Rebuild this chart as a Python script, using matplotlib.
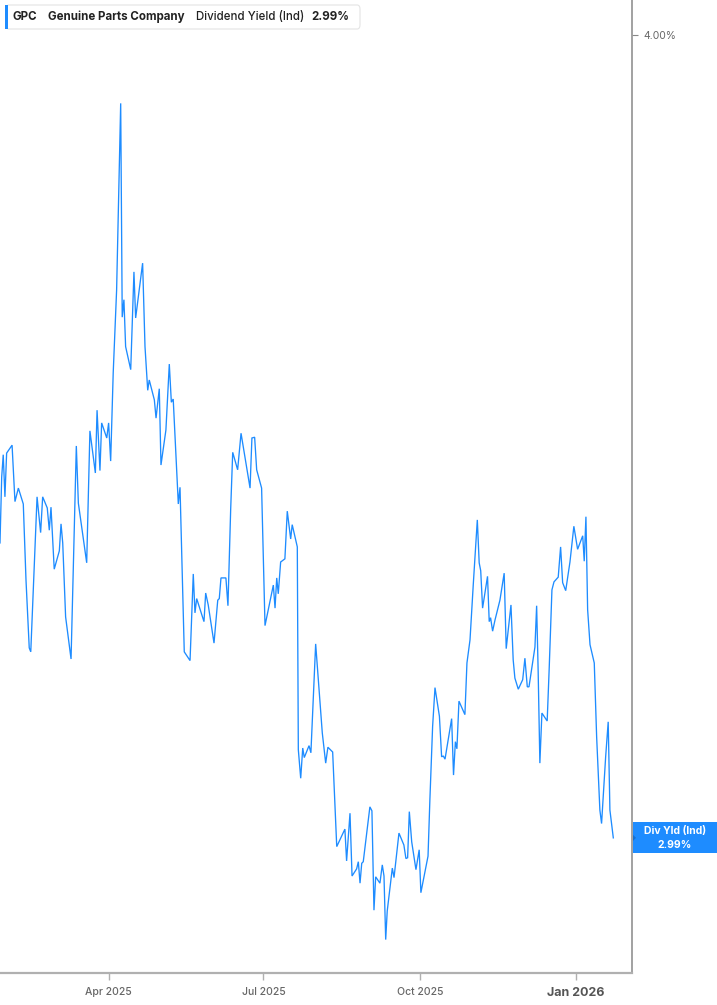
import datetime as dt
import numpy as np
import matplotlib
matplotlib.use("Agg")
import matplotlib.pyplot as plt
import matplotlib.dates as mdates
from matplotlib.patches import FancyBboxPatch, Rectangle, Polygon

# ---------------- data ----------------
start_date = dt.datetime(2025, 1, 27)
# days since start_date
day_offset = [
    0.0, 1.0, 1.9, 2.9, 3.9, 7.1, 8.8, 10.8, 13.7, 15.3, 17.2, 18.1, 21.8, 23.9, 25.1,
    27.8, 29.0, 30.0, 31.9, 34.9, 35.9, 36.9, 38.6, 41.8, 44.9, 46.1, 51.0, 52.9, 56.1,
    57.1, 58.8, 59.8, 62.8, 63.9, 65.1, 66.6, 68.6, 71.0, 71.9, 72.9, 73.9, 76.9, 78.8,
    79.8, 83.9, 85.3, 86.9, 87.8, 90.8, 91.8, 93.7, 94.7, 97.6, 99.6, 100.8, 101.9,
    104.9, 105.9, 108.4, 111.8, 113.7, 114.7, 115.7, 120.0, 121.0, 122.5, 125.9, 128.1,
    129.0, 130.0, 132.9, 134.1, 135.7, 136.9, 139.8, 141.8, 143.1, 147.1, 148.2, 149.8,
    151.0, 153.9, 155.9, 160.8, 161.8, 162.8, 163.7, 165.1, 167.6, 169.0, 171.0, 171.9,
    174.9, 175.5, 176.9, 178.1, 179.0, 181.8, 182.9, 185.7, 189.6, 191.6, 192.9, 195.7,
    198.1, 199.4, 202.9, 203.9, 205.9, 207.1, 209.8, 210.8, 211.8, 212.8, 213.7, 217.6,
    218.8, 220.0, 221.0, 223.5, 224.9, 225.9, 226.9, 227.8, 230.8, 231.8, 234.7, 237.6,
    238.8, 239.8, 240.8, 242.2, 244.7, 246.6, 247.6, 251.8, 252.9, 254.5, 255.9, 258.5,
    259.8, 260.8, 261.8, 265.7, 266.8, 267.9, 268.8, 270.0, 273.5, 274.7, 276.5, 278.4,
    280.8, 281.9, 282.8, 283.9, 286.8, 287.8, 288.6, 289.8, 291.2, 294.1, 296.6, 297.8,
    300.6, 301.9, 302.9, 304.9, 307.5, 308.8, 310.2, 311.2, 314.7, 315.7, 316.6, 317.6,
    318.8, 321.9, 323.1, 324.7, 325.9, 328.4, 329.8, 331.0, 332.8, 335.3, 337.6, 339.8,
    342.8, 343.7, 344.7, 345.7, 347.1, 349.6, 351.0, 352.9, 353.9, 356.3, 357.8, 358.8,
    360.8,
]
div_yield = [
    3.361, 3.444, 3.472, 3.419, 3.474, 3.484, 3.413, 3.430, 3.410, 3.314, 3.229, 3.224,
    3.419, 3.374, 3.419, 3.405, 3.377, 3.406, 3.328, 3.351, 3.385, 3.361, 3.268, 3.215,
    3.483, 3.411, 3.336, 3.502, 3.449, 3.528, 3.452, 3.512, 3.493, 3.512, 3.464, 3.575,
    3.679, 3.914, 3.645, 3.667, 3.608, 3.579, 3.702, 3.644, 3.713, 3.608, 3.553, 3.566,
    3.541, 3.518, 3.555, 3.459, 3.503, 3.586, 3.538, 3.542, 3.410, 3.431, 3.224, 3.213,
    3.322, 3.273, 3.291, 3.262, 3.298, 3.283, 3.235, 3.289, 3.291, 3.317, 3.317, 3.282,
    3.403, 3.475, 3.453, 3.499, 3.482, 3.430, 3.493, 3.494, 3.453, 3.430, 3.257, 3.308,
    3.279, 3.317, 3.297, 3.337, 3.341, 3.401, 3.366, 3.384, 3.356, 3.101, 3.065, 3.103,
    3.091, 3.106, 3.097, 3.234, 3.122, 3.084, 3.104, 3.098, 2.979, 2.985, 3.001, 2.961,
    3.021, 2.942, 2.951, 2.960, 2.933, 2.958, 2.960, 3.029, 3.024, 2.899, 2.941, 2.933,
    2.956, 2.942, 2.862, 2.898, 2.952, 2.940, 2.996, 2.981, 2.964, 2.965, 3.023, 2.985,
    2.950, 2.975, 2.921, 2.967, 3.038, 3.130, 3.179, 3.143, 3.092, 3.093, 3.089, 3.140,
    3.069, 3.111, 3.102, 3.162, 3.145, 3.210, 3.239, 3.308, 3.390, 3.336, 3.326, 3.279,
    3.319, 3.262, 3.267, 3.250, 3.264, 3.289, 3.323, 3.228, 3.283, 3.214, 3.191, 3.177,
    3.189, 3.216, 3.180, 3.180, 3.230, 3.282, 3.199, 3.084, 3.147, 3.137, 3.204, 3.302,
    3.312, 3.318, 3.356, 3.311, 3.301, 3.337, 3.382, 3.353, 3.370, 3.338, 3.394, 3.277,
    3.233, 3.210, 3.117, 3.025, 3.008, 3.092, 3.136, 3.025, 2.990,
]
tick_dates = [dt.datetime(2025, 4, 1), dt.datetime(2025, 7, 1),
              dt.datetime(2025, 10, 1), dt.datetime(2026, 1, 1)]
tick_labels = ["Apr 2025", "Jul 2025", "Oct 2025", "Jan 2026"]
y_ticks = [4.00]
y_tick_labels = ["4.00%"]
ticker = "GPC"
company = "Genuine Parts Company"
metric = "Dividend Yield (Ind)"
last_label = "2.99%"
last_value = div_yield[-1]

# ---------------- figure ----------------
W, H = 717, 1005
fig = plt.figure(figsize=(W / 100, H / 100), dpi=100)
fig.patch.set_facecolor("white")
plt.rcParams["font.family"] = ["Inter", "DejaVu Sans"]


def fx(x):
    return x / W


def fy(y):
    return 1 - y / H


ax_left, ax_right, ax_top, ax_bottom = 0, 632, 0, 973
ax = fig.add_axes([fx(ax_left), fy(ax_bottom), fx(ax_right - ax_left), (ax_bottom - ax_top) / H])

base = mdates.date2num(start_date)
xs = base + np.array(day_offset)
line_color = "#1e8cff"
ax.plot(xs, div_yield, color=line_color, lw=0.95, solid_joinstyle="miter")

ax.set_xlim(base, base + 371.8)
ax.set_ylim(2.820, 4.044)

for s in ["left", "top"]:
    ax.spines[s].set_visible(False)
ax.spines["right"].set_color("#9a9a9a")
ax.spines["bottom"].set_color("#b0b0b0")
ax.spines["right"].set_linewidth(1.3)
ax.spines["bottom"].set_linewidth(1.6)

ax.yaxis.tick_right()
ax.set_yticks(y_ticks)
ax.set_yticklabels(y_tick_labels)
ax.tick_params(axis="y", length=4, width=0.8, color="#888888", labelcolor="#666666",
               labelsize=7.5, pad=4)

ax.set_xticks([mdates.date2num(d) for d in tick_dates])
ax.set_xticklabels(tick_labels)
ax.tick_params(axis="x", length=5, width=1.0, color="#b0b0b0", labelcolor="#666666",
               labelsize=7.5, pad=5)
xl = ax.get_xticklabels()
xl[-1].set_fontweight("bold")
xl[-1].set_fontsize(9)
xl[-1].set_color("#555555")
for t in xl[:-1]:
    t.set_fontweight("medium")

# ---------------- header box ----------------
box = FancyBboxPatch((fx(6), fy(29)), fx(354), (29 - 5) / H,
                     boxstyle="round,pad=0,rounding_size=0.004",
                     transform=fig.transFigure, facecolor="white",
                     edgecolor="#e4e4e4", lw=0.8, zorder=5)
fig.patches.append(box)
bar = Rectangle((fx(5), fy(29)), fx(3), (29 - 5) / H, transform=fig.transFigure,
                facecolor=line_color, edgecolor="none", zorder=6)
fig.patches.append(bar)
hy = fy(17)
fig.text(fx(13), hy, ticker, fontsize=8.3, fontweight="bold", color="#222222", va="center", zorder=10)
fig.text(fx(48), hy, company, fontsize=8.3, fontweight="bold", color="#222222", va="center", zorder=10)
fig.text(fx(196), hy, metric, fontsize=8.3, fontweight="medium", color="#222222", va="center", zorder=10)
fig.text(fx(311), hy, last_label, fontsize=8.3, fontweight="bold", color="#222222", va="center", zorder=10)

# ---------------- last value label ----------------
ly = ax.transData.transform((0, last_value))[1]
ly_px = H - ly
lab = Rectangle((fx(633), fy(ly_px + 15.5)), fx(84), 31 / H, transform=fig.transFigure,
                facecolor="#1e8cff", edgecolor="none", zorder=6)
fig.patches.append(lab)
fig.patches.append(Polygon([(fx(633), fy(ly_px - 3)), (fx(636), fy(ly_px)), (fx(633), fy(ly_px + 3))],
                           closed=True, transform=fig.transFigure, facecolor="#1570d0",
                           edgecolor="none", zorder=7))
fig.text(fx(675), fy(ly_px - 6.5), "Div Yld (Ind)", fontsize=7.5, fontweight="bold",
         color="white", ha="center", va="center", zorder=10)
fig.text(fx(675), fy(ly_px + 7), last_label, fontsize=7.5, fontweight="bold",
         color="white", ha="center", va="center", zorder=10)

fig.savefig("out.png", dpi=100)
